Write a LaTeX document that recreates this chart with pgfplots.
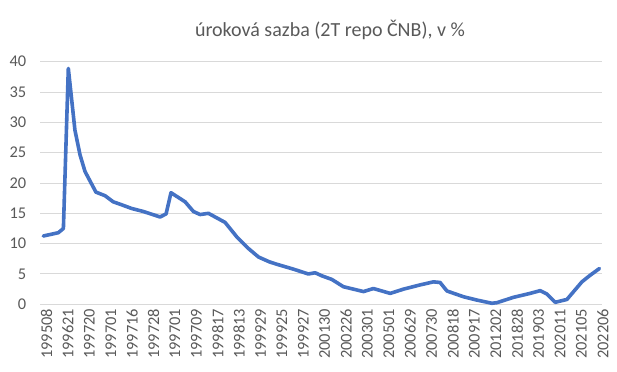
\documentclass[border=0pt]{standalone}
\usepackage{pgfplots}
\pgfplotsset{compat=1.18}
\usepackage{fontspec}
\setmainfont{Carlito}
\definecolor{txt}{HTML}{595959}
\definecolor{gridc}{HTML}{D9D9D9}
\definecolor{linec}{HTML}{4472C4}
\begin{document}
\begin{tikzpicture}[x=0.75pt,y=0.75pt]
\path[use as bounding box] (-40,-66.7) rectangle (577,304.3);
\begin{axis}[at={(0,0)}, anchor=south west, scale only axis,
  width=421.5pt, height=181.95pt,
  xmin=-0.154, xmax=26.12, ymin=0, ymax=40,
  ytick={0,5,...,40},
  xtick={0,...,26},
  xticklabels={199508,199621,199720,199701,199716,199728,199701,199709,199817,199813,199929,199925,199927,200130,200226,200301,200501,200629,200730,200818,200917,201202,201828,201903,202011,202105,202206},
  ymajorgrids, grid style={gridc, line width=0.75pt},
  axis line style={draw=none},
  major tick length=0pt,
  tick label style={txt, font=\fontsize{12.3}{14}\selectfont},
  /pgf/number format/assume math mode=true,
  x tick label style={rotate=90, anchor=east, yshift=-2.5pt},
  y tick label style={anchor=east, xshift=-6.75pt},
  clip=false,
]
\addplot[linec, line width=2.7pt, line join=round, line cap=round, mark=none] coordinates {
(0,11.26) (0.70,11.8) (0.94,12.5) (1.17,38.9) (1.48,28.7) (1.72,24.6) (1.95,21.9)
(2.46,18.5) (2.89,17.9) (3.27,16.9) (3.67,16.4) (4.13,15.8) (4.68,15.3)
(5.46,14.4) (5.74,14.9) (5.97,18.4) (6.63,16.9) (7.02,15.3) (7.33,14.8) (7.72,15.0)
(8.50,13.5) (9.05,11.1) (9.59,9.2) (10.06,7.8) (10.57,7.0) (10.92,6.6) (11.69,5.8)
(12.39,5.0) (12.71,5.2) (13.02,4.7) (13.49,4.1) (14.03,2.9) (14.97,2.1) (15.43,2.6)
(16.22,1.8) (16.84,2.5) (17.62,3.2) (18.24,3.7) (18.55,3.6) (18.87,2.2) (19.64,1.25)
(20.27,0.7) (20.97,0.17) (21.21,0.27) (21.98,1.15) (22.76,1.8) (23.23,2.25) (23.54,1.7)
(23.93,0.33) (24.48,0.8) (25.18,3.7) (25.57,4.8) (26,5.9)
};
\end{axis}
\node[txt, font=\fontsize{15}{18}\selectfont] at (290,274.3) {úroková sazba (2T repo ČNB), v \%};
\end{tikzpicture}
\end{document}
